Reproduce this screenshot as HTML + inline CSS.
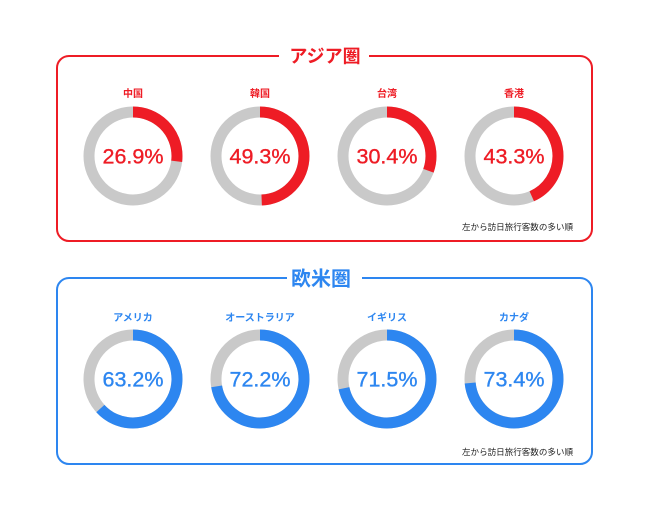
<!DOCTYPE html>
<html>
<head>
<meta charset="utf-8">
<style>
  html,body{margin:0;padding:0;background:#fff;}
  svg{display:block;}
  .lbl{font-family:"Liberation Sans","Noto Sans CJK JP",sans-serif;font-weight:bold;font-size:10px;}
  .pct{font-family:"Liberation Sans","Noto Sans CJK JP",sans-serif;font-size:21px;}
  .ttl{font-family:"Liberation Sans","Noto Sans CJK JP",sans-serif;font-weight:bold;}
  .note{font-family:"Liberation Sans","Noto Sans CJK JP",sans-serif;font-size:8.5px;fill:#222;}
</style>
</head>
<body>
<svg width="650" height="505" viewBox="0 0 650 505" xmlns="http://www.w3.org/2000/svg">
  <rect width="650" height="505" fill="#fff"/>

  <!-- Asia box -->
  <rect x="57" y="56" width="535" height="185" rx="12" ry="12" fill="none" stroke="#ee1c25" stroke-width="2"/>
  <rect x="279" y="46" width="90" height="20" fill="#fff"/>
  <text class="ttl" x="325" y="62.5" font-size="18" fill="#ee1c25" text-anchor="middle">アジア圏</text>

  <g fill="#ee1c25" text-anchor="middle">
    <text class="lbl" x="133" y="97">中国</text>
    <text class="lbl" x="260" y="97">韓国</text>
    <text class="lbl" x="387" y="97">台湾</text>
    <text class="lbl" x="514" y="97">香港</text>
  </g>

  <g fill="none" stroke-width="11">
    <circle cx="133" cy="156" r="44" stroke="#c9c9c9"/>
    <circle cx="133" cy="156" r="44" stroke="#ee1c25" stroke-dasharray="74.37 300" transform="rotate(-90 133 156)"/>
    <circle cx="260" cy="156" r="44" stroke="#c9c9c9"/>
    <circle cx="260" cy="156" r="44" stroke="#ee1c25" stroke-dasharray="136.30 300" transform="rotate(-90 260 156)"/>
    <circle cx="387" cy="156" r="44" stroke="#c9c9c9"/>
    <circle cx="387" cy="156" r="44" stroke="#ee1c25" stroke-dasharray="84.04 300" transform="rotate(-90 387 156)"/>
    <circle cx="514" cy="156" r="44" stroke="#c9c9c9"/>
    <circle cx="514" cy="156" r="44" stroke="#ee1c25" stroke-dasharray="119.71 300" transform="rotate(-90 514 156)"/>
  </g>
  <g fill="#ee1c25" stroke="#ee1c25" stroke-width="0.35">
    <text class="pct" x="102.5" y="163.5" textLength="61" lengthAdjust="spacingAndGlyphs">26.9%</text>
    <text class="pct" x="229.5" y="163.5" textLength="61" lengthAdjust="spacingAndGlyphs">49.3%</text>
    <text class="pct" x="356.5" y="163.5" textLength="61" lengthAdjust="spacingAndGlyphs">30.4%</text>
    <text class="pct" x="483.5" y="163.5" textLength="61" lengthAdjust="spacingAndGlyphs">43.3%</text>
  </g>
  <text class="note" x="462" y="230" textLength="111" lengthAdjust="spacingAndGlyphs">左から訪日旅行客数の多い順</text>

  <!-- Western box -->
  <rect x="57" y="278" width="535" height="186" rx="12" ry="12" fill="none" stroke="#2d86f0" stroke-width="2"/>
  <rect x="287" y="266" width="75" height="24" fill="#fff"/>
  <text class="ttl" x="321" y="285.5" font-size="20" fill="#2d86f0" text-anchor="middle">欧米圏</text>

  <g fill="#2d86f0" text-anchor="middle">
    <text class="lbl" x="133" y="321">アメリカ</text>
    <text class="lbl" x="260" y="321">オーストラリア</text>
    <text class="lbl" x="387" y="321">イギリス</text>
    <text class="lbl" x="514" y="321">カナダ</text>
  </g>

  <g fill="none" stroke-width="11">
    <circle cx="133" cy="379" r="44" stroke="#c9c9c9"/>
    <circle cx="133" cy="379" r="44" stroke="#2d86f0" stroke-dasharray="174.72 300" transform="rotate(-90 133 379)"/>
    <circle cx="260" cy="379" r="44" stroke="#c9c9c9"/>
    <circle cx="260" cy="379" r="44" stroke="#2d86f0" stroke-dasharray="199.60 300" transform="rotate(-90 260 379)"/>
    <circle cx="387" cy="379" r="44" stroke="#c9c9c9"/>
    <circle cx="387" cy="379" r="44" stroke="#2d86f0" stroke-dasharray="197.67 300" transform="rotate(-90 387 379)"/>
    <circle cx="514" cy="379" r="44" stroke="#c9c9c9"/>
    <circle cx="514" cy="379" r="44" stroke="#2d86f0" stroke-dasharray="202.92 300" transform="rotate(-90 514 379)"/>
  </g>
  <g fill="#2d86f0" stroke="#2d86f0" stroke-width="0.35">
    <text class="pct" x="102.5" y="386.5" textLength="61" lengthAdjust="spacingAndGlyphs">63.2%</text>
    <text class="pct" x="229.5" y="386.5" textLength="61" lengthAdjust="spacingAndGlyphs">72.2%</text>
    <text class="pct" x="356.5" y="386.5" textLength="61" lengthAdjust="spacingAndGlyphs">71.5%</text>
    <text class="pct" x="483.5" y="386.5" textLength="61" lengthAdjust="spacingAndGlyphs">73.4%</text>
  </g>
  <text class="note" x="462" y="455" textLength="111" lengthAdjust="spacingAndGlyphs">左から訪日旅行客数の多い順</text>
</svg>
</body>
</html>
